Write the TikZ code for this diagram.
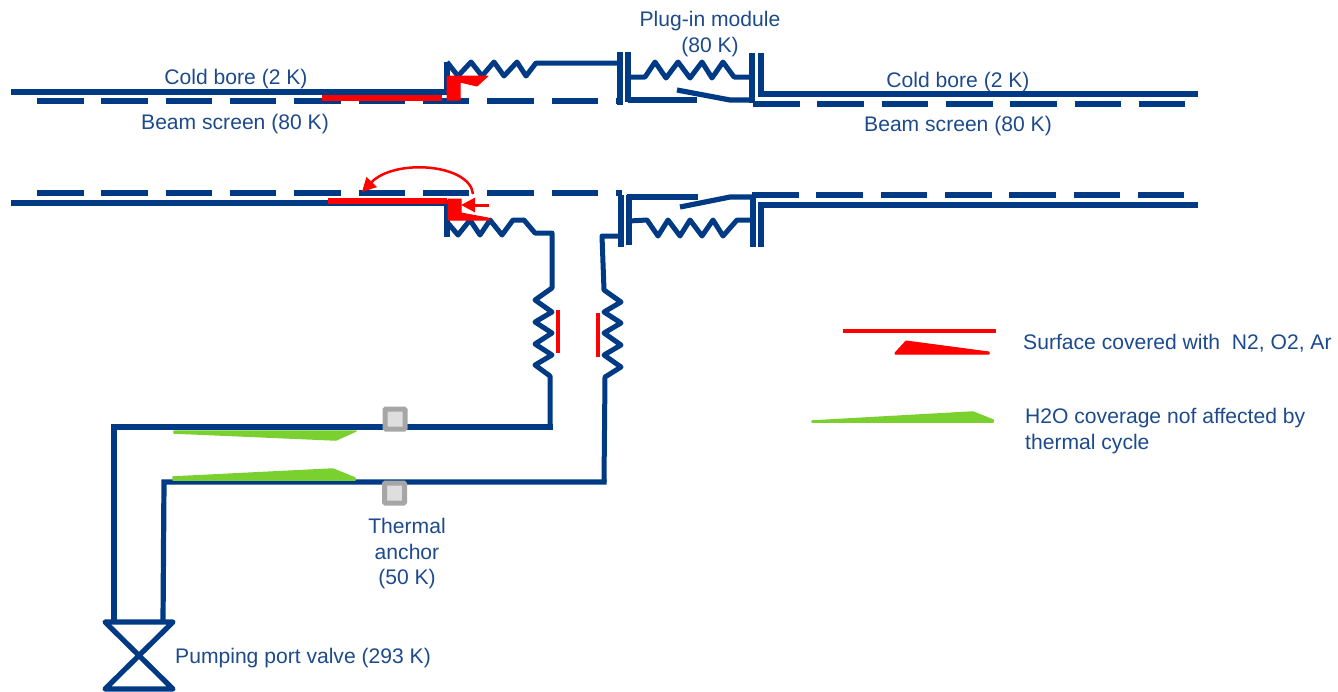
\documentclass[tikz,border=0pt]{standalone}
\usepackage{fontspec}
\setmainfont{Liberation Sans}
\usetikzlibrary{arrows.meta}
\definecolor{pipe}{HTML}{003A84}
\definecolor{txt}{HTML}{1C4A8C}
\definecolor{cov}{HTML}{FF0000}
\definecolor{wat}{HTML}{7AD02F}
\tikzset{
  pipeline/.style={draw=pipe,line width=5.2pt,line join=miter},
  thinpipe/.style={draw=pipe,line width=5pt,line join=round},
  beam/.style={draw=pipe,line width=6pt,dash pattern=on 46.5pt off 17.83pt},
  covline/.style={draw=cov,line width=6pt},
  covbar/.style={draw=cov,line width=4pt},
  covshape/.style={fill=cov,draw=cov,line width=1pt,line join=round},
  watshape/.style={fill=wat,draw=wat,line width=1.5pt,line join=round},
  anchorbox/.style={draw=black!35,fill=black!13,line width=5pt,rounded corners=1pt,minimum size=20pt,inner sep=0pt},
  lbl/.style={text=txt,font=\fontsize{21.1pt}{25.5pt}\selectfont,align=center,inner sep=0pt}
}
\begin{document}
\begin{tikzpicture}[x=1pt,y=-1pt]
\useasboundingbox (0,0) rectangle (1338,691);
% upper beam line
\draw[beam] (37,101) -- (620,101);
\draw[beam] (753,104) -- (1186,104);
\draw[pipeline] (11,92) -- (447,92) -- (447,62);
\draw[thinpipe] (447,62) -- (458,76) -- (471,62) -- (482,76) -- (494,62) -- (504,76) -- (517,62) -- (526,76) -- (536,63) -- (620,63);
\draw[pipeline] (620,52) -- (620,105);
\draw[pipeline] (628,52) -- (628,102);
\draw[thinpipe] (628,77) -- (645,77) -- (655,62) -- (666,78) -- (678,62) -- (690,78) -- (702,62) -- (712,78) -- (723,62) -- (734,77) -- (752,77);
\draw[pipeline] (628,100) -- (697,100);
\draw[pipeline] (677,90) -- (730,100) -- (752,100);
\draw[pipeline] (752,53) -- (752,103);
\draw[pipeline] (761,53) -- (761,94) -- (1198,94);
% lower beam line
\draw[beam] (37,193) -- (622,193);
\draw[beam] (752,195) -- (1186,195);
\draw[pipeline] (11,203) -- (447,203) -- (447,237);
\draw[thinpipe] (447,222) -- (458,235) -- (470,220) -- (480,235) -- (490,220) -- (502,235) -- (513,220) -- (524,220) -- (535,233) -- (552,233) -- (552,288) -- (535,300) -- (552,312) -- (535,322) -- (552,333) -- (535,344) -- (552,355) -- (535,365) -- (550,376) -- (550,427);
\draw[pipeline] (552.6,427) -- (114,427) -- (114,622);
\draw[thinpipe] (620,236) -- (602,236) -- (604,290) -- (621,302) -- (604,312) -- (621,323) -- (604,333) -- (621,345) -- (604,355) -- (621,367) -- (605,377) -- (604,482);
\draw[pipeline] (606.5,482) -- (164,482) -- (163,622);
\draw[pipeline] (621,195) -- (621,247);
\draw[pipeline] (629,195) -- (629,245);
\draw[pipeline] (627,197) -- (698,197);
\draw[pipeline] (680,207) -- (730,197) -- (753,197);
\draw[thinpipe] (629,221) -- (647,220) -- (658,236) -- (668,220) -- (680,236) -- (690,220) -- (702,236) -- (713,220) -- (723,236) -- (737,220) -- (753,220);
\draw[pipeline] (753,195) -- (753,247);
\draw[pipeline] (761,247) -- (761,205) -- (1198,205);
% valve
\draw[pipeline,line join=round] (105,622) -- (173,622) -- (105,689) -- (173,689) -- cycle;
% red coverage
\draw[covline] (322,98) -- (442,98);
\draw[covshape] (447,100) -- (447,76) -- (488,76) -- (477,86) -- (460,82) -- (460,100) -- cycle;
\draw[covline] (328,201) -- (447,201);
\draw[covshape] (448,199) -- (461,199) -- (461,213) -- (488,218) -- (490,220) -- (448,220) -- cycle;
\draw[cov,line width=3pt,-{Triangle[length=14pt,width=14pt]}] (489,205) -- (461,205);
\draw[cov,line width=2.5pt,-{Triangle[length=14pt,width=14pt]}] (473,194) .. controls (470,164) and (395,158) .. (362,192);
\draw[covbar] (558,310) -- (558,353);
\draw[covbar] (598,313) -- (598,357);
% green coverage
\draw[watshape] (174,431) -- (356,431) -- (336,440) -- (174,433) -- cycle;
\draw[watshape] (173,477) -- (333,469) -- (355,478) -- (355,480) -- (173,480) -- cycle;
% thermal anchors
\node[anchorbox] (a1) at (395,419) {};
\node[anchorbox] (a2) at (394.5,493) {};
% legend
\draw[covbar,line width=4.5pt] (843,331) -- (996,331);
\draw[covshape] (895,353) -- (906,341) -- (989,352) -- (989,354) -- (895,354) -- cycle;
\draw[watshape] (812,421) -- (973,412) -- (993,420) -- (993,422) -- (812,422) -- cycle;
% labels
\node[lbl] (t1) at (236,79) {Cold bore (2 K)};
\node[lbl] (t2) at (235,124) {Beam screen (80 K)};
\node[lbl] (t3) at (710,34) {Plug-in module\\(80 K)};
\node[lbl] (t4) at (958,82) {Cold bore (2 K)};
\node[lbl] (t5) at (958,126) {Beam screen (80 K)};
\node[lbl,anchor=west] (t6) at (1023,343) {Surface covered with\ \ N2, O2, Ar};
\node[lbl,anchor=west,align=left] (t7) at (1025,431) {H2O coverage nof affected by\\thermal cycle};
\node[lbl] (t8) at (407,554) {Thermal\\anchor\\(50 K)};
\node[lbl,anchor=west] (t9) at (175,658) {Pumping port valve (293 K)};
\end{tikzpicture}
\end{document}
